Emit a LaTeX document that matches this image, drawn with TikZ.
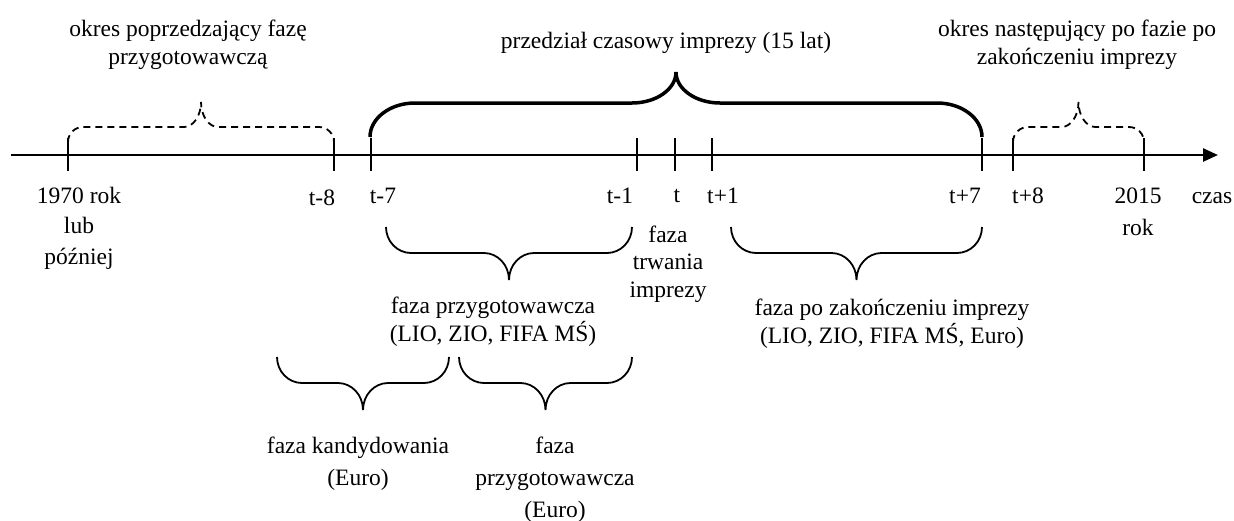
\documentclass[tikz,border=0pt]{standalone}
\usepackage{fontspec}
\setmainfont{Liberation Serif}
\usetikzlibrary{arrows.meta}
\newcommand{\wbrace}[8]{%
  \pgfmathsetmacro{\bxm}{(#2+#3)/2}%
  \draw[#1] (#2,#4) .. controls (#2,{#4+0.552*(#5-#4)}) and ({#2+0.448*#7},#5) .. ({#2+#7},#5)
    -- ({\bxm-#8},#5) .. controls ({\bxm-0.448*#8},#5) and (\bxm,{#6+0.552*(#5-#6)}) .. (\bxm,#6)
    .. controls (\bxm,{#6+0.552*(#5-#6)}) and ({\bxm+0.448*#8},#5) .. ({\bxm+#8},#5)
    -- ({#3-#7},#5) .. controls ({#3-0.448*#7},#5) and (#3,{#4+0.552*(#5-#4)}) .. (#3,#4);}
\tikzset{
  txt/.style={inner sep=0pt, align=center},
  lbl/.style={txt, anchor=base, font=\fontsize{23.5}{28}\selectfont},
  blk/.style={txt, anchor=north, font=\fontsize{23.5}{#1}\selectfont},
  axisline/.style={line width=2.5pt},
  tickline/.style={line width=2pt},
  bigbrace/.style={line width=3.5pt},
  smallbrace/.style={line width=1.8pt},
  dashbrace/.style={line width=1.8pt, dash pattern=on 7pt off 5pt}
}
\begin{document}
\begin{tikzpicture}[x=1pt,y=-1pt]
\useasboundingbox (0,0) rectangle (1234,520);
% axis
\coordinate (axstart) at (11,155);
\coordinate (axend) at (1218,155);
\draw[axisline,-{Triangle[length=15pt,width=13pt]}] (axstart) -- (axend);
% ticks
\foreach \x in {68,334,371,637,675,712,982,1013,1144}
  \draw[tickline] (\x,138) -- (\x,171);
% braces above the axis
\wbrace{dashbrace}{68}{334}{142}{127}{102}{15}{17}
\wbrace{dashbrace}{1013}{1144}{142}{127}{102}{15}{17}
\wbrace{bigbrace}{370}{982}{137}{103}{72}{45}{44}
% braces below the axis
\wbrace{smallbrace}{386}{632}{227}{253}{280}{25}{25}
\wbrace{smallbrace}{731}{982}{227}{253}{280}{25}{25}
\wbrace{smallbrace}{277}{449}{357}{383}{410}{25}{25}
\wbrace{smallbrace}{459}{632}{357}{383}{410}{25}{25}
% top texts
\node[blk=28] (pre) at (188,16) {\rule{0pt}{20pt}okres poprzedzający fazę\\przygotowawczą};
\node[lbl] (title) at (666,48) {przedział czasowy imprezy (15 lat)};
\node[blk=28] (post) at (1077,16) {\rule{0pt}{20pt}okres następujący po fazie po\\zakończeniu imprezy};
% axis labels
\node[blk=30.5] (y1970) at (79,183) {\rule{0pt}{20pt}1970 rok\\lub\\później};
\node[lbl] (tm8) at (322,205) {t-8};
\node[lbl] (tm7) at (383,203) {t-7};
\node[lbl] (tm1) at (620,203) {t-1};
\node[lbl] (t0) at (677,202) {t};
\node[lbl] (tp1) at (723,203) {t+1};
\node[lbl] (tp7) at (965,203) {t+7};
\node[lbl] (tp8) at (1028,203) {t+8};
\node[blk=32] (y2015) at (1138,183) {\rule{0pt}{20pt}2015\\rok};
\node[lbl] (czas) at (1212,203) {czas};
% phase labels
\node[blk=27.5] (trw) at (668,222) {\rule{0pt}{20pt}faza\\trwania\\imprezy};
\node[blk=28.5] (przyg) at (493,293) {\rule{0pt}{20pt}faza przygotowawcza\\(LIO, ZIO, FIFA MŚ)};
\node[blk=28] (pozak) at (892,295) {\rule{0pt}{20pt}faza po zakończeniu imprezy\\(LIO, ZIO, FIFA MŚ, Euro)};
\node[blk=32] (kand) at (358,433) {\rule{0pt}{20pt}faza kandydowania\\(Euro)};
\node[blk=32] (przygE) at (555,433) {\rule{0pt}{20pt}faza\\przygotowawcza\\(Euro)};
\end{tikzpicture}
\end{document}
